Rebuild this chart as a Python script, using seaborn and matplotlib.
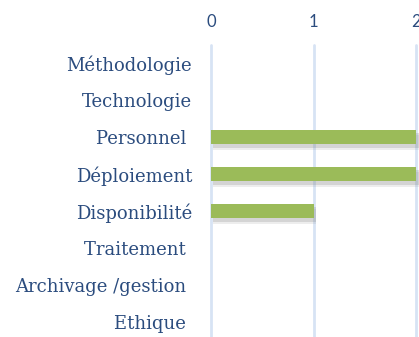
import matplotlib
matplotlib.use("Agg")
import matplotlib.pyplot as plt
import matplotlib.patheffects as pe
import pandas as pd
import seaborn as sns

categories = ["Méthodologie", "Technologie", "Personnel ", "Déploiement",
              "Disponibilité", "Traitement ", "Archivage /gestion ", "Ethique "]
values = [0, 0, 2, 2, 1, 0, 0, 0]
x_ticks = [0, 1, 2]

df = pd.DataFrame({"categorie": categories, "valeur": values})

sns.set_theme(style="white")
text_color = "#2B4C7E"

fig = plt.figure(figsize=(4.19, 3.37), dpi=100)
ax = fig.add_axes([211 / 419, 0, 1 - 211 / 419, 1 - 45 / 337])

sns.barplot(data=df, x="valeur", y="categorie", orient="h",
            color="#9BBB59", saturation=1, width=0.4, linewidth=0, ax=ax)

# soft drop shadow under the non-empty bars
for bar in ax.patches:
    if bar.get_width() > 0:
        bar.set_path_effects([
            pe.SimplePatchShadow(offset=(1.5, -4), shadow_rgbFace="#8A8A8A", alpha=0.15),
            pe.SimplePatchShadow(offset=(1.5, -2.5), shadow_rgbFace="#8A8A8A", alpha=0.25),
            pe.Normal(),
        ])

ax.set_xlim(0, 2.025)
ax.set_ylim(7.405, -0.486)
ax.set_xticks(x_ticks)
ax.xaxis.tick_top()
ax.tick_params(axis="x", length=0, pad=11, labelcolor=text_color)
ax.tick_params(axis="y", length=0, pad=13.7, labelcolor=text_color)
for lab in ax.get_xticklabels():
    lab.set_family("Lato")
    lab.set_fontsize(12)
for lab in ax.get_yticklabels():
    lab.set_family("DejaVu Serif")
    lab.set_fontsize(13)

ax.grid(axis="x", color="#D7E3F4", linewidth=2)
for gl in ax.get_xgridlines():
    gl.set_clip_on(False)
ax.set_axisbelow(True)
for s in ax.spines.values():
    s.set_visible(False)
ax.set_xlabel("")
ax.set_ylabel("")

fig.savefig("out.png", dpi=100)
